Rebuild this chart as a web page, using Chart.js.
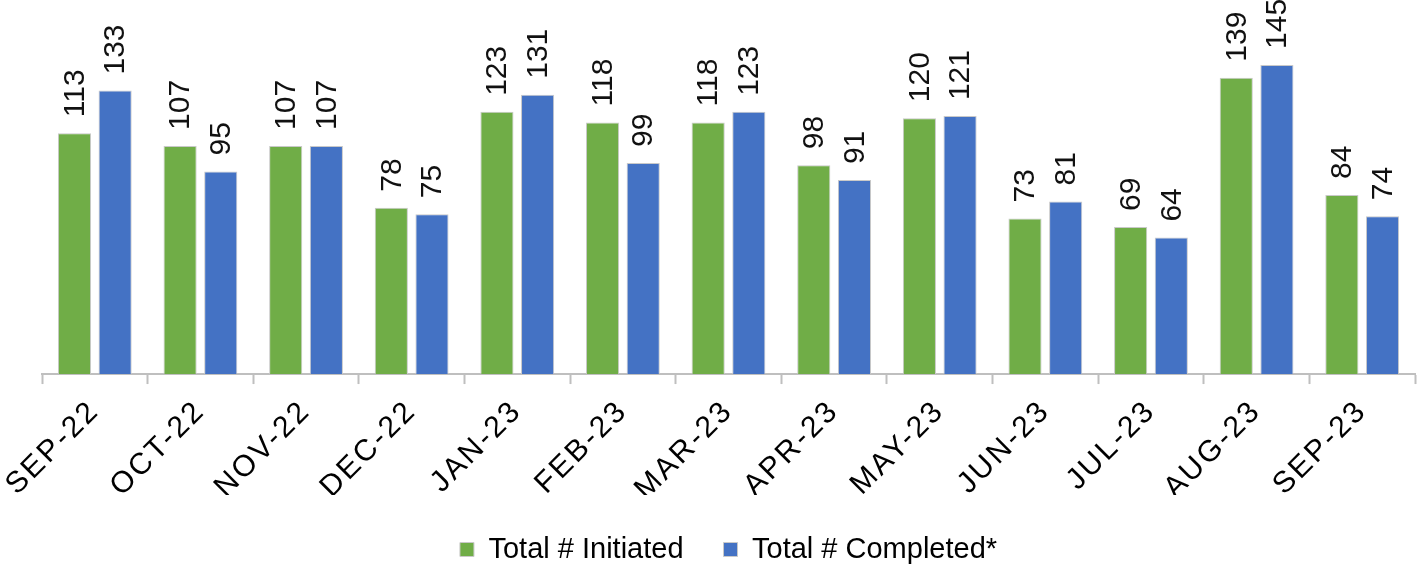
<!DOCTYPE html>
<html>
<head>
<meta charset="utf-8">
<script src="https://cdn.jsdelivr.net/npm/chart.js@4.4.1/dist/chart.umd.min.js"></script>
<style>
  html, body { margin: 0; padding: 0; background: #ffffff; }
  #wrap { width: 1421px; height: 567px; position: relative; }
</style>
</head>
<body>
<div id="wrap"><canvas id="chart"></canvas></div>
<script>
// Monthly totals
const months = ['SEP-22', 'OCT-22', 'NOV-22', 'DEC-22', 'JAN-23', 'FEB-23', 'MAR-23',
                'APR-23', 'MAY-23', 'JUN-23', 'JUL-23', 'AUG-23', 'SEP-23'];
const initiated = [113, 107, 107, 78, 123, 118, 118, 98, 120, 73, 69, 139, 84];
const completed = [133, 95, 107, 75, 131, 99, 123, 91, 121, 81, 64, 145, 74];
const seriesNames = ['Total # Initiated', 'Total # Completed*'];

const FONT = "'Liberation Sans', Arial, sans-serif";

// Vertical value labels above each bar
const barValueLabels = {
  id: 'barValueLabels',
  afterDatasetsDraw(chart) {
    const ctx = chart.ctx;
    chart.data.datasets.forEach((ds, di) => {
      const meta = chart.getDatasetMeta(di);
      meta.data.forEach((bar, i) => {
        ctx.save();
        ctx.translate(bar.x + 1, bar.y - 16);
        ctx.rotate(-Math.PI / 2);
        ctx.font = '30px ' + FONT;
        ctx.fillStyle = '#111111';
        ctx.textAlign = 'left';
        ctx.textBaseline = 'middle';
        ctx.fillText(String(ds.data[i]), 0, 0);
        ctx.restore();
      });
    });
  }
};

// Spaced-out month labels on the category axis
const spacedTicks = {
  id: 'spacedTicks',
  beforeDraw(chart) {
    const s = chart.scales.x;
    if (s && !s.__spaced) {
      const orig = s.drawLabels.bind(s);
      s.drawLabels = function (area) {
        const ctx = chart.ctx;
        const prev = ctx.letterSpacing;
        ctx.letterSpacing = '2.5px';
        orig(area);
        ctx.letterSpacing = prev || '0px';
      };
      s.__spaced = true;
    }
  }
};

new Chart(document.getElementById('chart'), {
  type: 'bar',
  data: {
    labels: months,
    datasets: [
      {
        label: seriesNames[0],
        data: initiated,
        backgroundColor: '#70AD47',
        borderColor: '#c9c9c9',
        borderWidth: 1
      },
      {
        label: seriesNames[1],
        data: completed,
        backgroundColor: '#4472C4',
        borderColor: '#c9c9c9',
        borderWidth: 1
      }
    ]
  },
  options: {
    responsive: true,
    maintainAspectRatio: false,
    animation: false,
    layout: { padding: { top: 1, left: 42, right: 6, bottom: -7 } },
    datasets: {
      bar: { categoryPercentage: 0.77, barPercentage: 0.815 }
    },
    scales: {
      x: {
        // the tilted labels may hang into the space above the legend
        afterFit(scale) { scale.height -= 11.3; },
        grid: {
          offset: true,
          drawOnChartArea: false,
          drawTicks: true,
          tickLength: 10,
          tickWidth: 2,
          tickColor: '#bfbfbf'
        },
        border: { display: true, color: '#bfbfbf', width: 2 },
        ticks: {
          autoSkip: false,
          minRotation: 45,
          maxRotation: 45,
          padding: 13,
          color: '#000000',
          font: { family: FONT, size: 30, lineHeight: 0.87 }
        }
      },
      y: {
        display: false,
        min: 0,
        max: 175
      }
    },
    plugins: {
      legend: {
        position: 'bottom',
        labels: {
          boxWidth: 14,
          boxHeight: 14,
          padding: 40,
          color: '#000000',
          font: { family: FONT, size: 29 }
        }
      },
      tooltip: { enabled: false },
      title: { display: false }
    }
  },
  plugins: [barValueLabels, spacedTicks]
});
</script>
</body>
</html>
